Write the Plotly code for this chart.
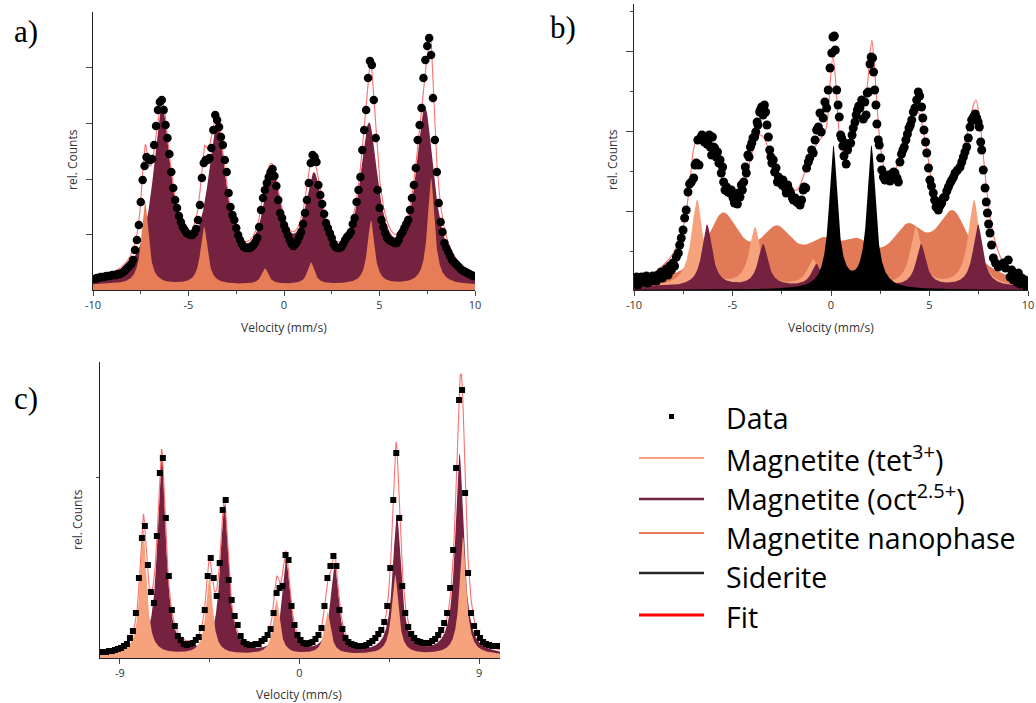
import numpy as np
import plotly.graph_objects as go

# ================= DATA =================
# ---- panel a (rel. counts in arbitrary units) ----
a_vel = np.linspace(-10, 10, 201)
a_counts = [11, 11, 12, 12, 13, 13, 13, 14, 14, 14,
            15, 15, 15, 16, 16, 17, 18, 20, 22, 24,
            26, 30, 40, 50, 65, 88, 110, 124, 133, 131,
            130, 131, 145, 164, 180, 188, 190, 180, 165, 152,
            136, 118, 102, 90, 82, 74, 68, 63, 60, 57,
            56, 55, 55, 57, 61, 70, 85, 112, 127, 130,
            130, 132, 142, 160, 175, 170, 163, 153, 145, 130,
            118, 97, 83, 75, 70, 62, 55, 50, 46, 43,
            42, 42, 42, 43, 45, 48, 52, 63, 80, 92,
            100, 107, 113, 118, 121, 114, 104, 90, 77, 72,
            65, 60, 55, 50, 46, 44, 46, 49, 53, 58,
            66, 77, 90, 107, 127, 135, 133, 128, 105, 95,
            86, 76, 67, 62, 57, 52, 46, 43, 42, 42,
            43, 46, 50, 53, 55, 58, 66, 72, 88, 100,
            113, 140, 160, 180, 212, 229, 225, 190, 152, 100,
            82, 70, 63, 57, 52, 50, 49, 48, 47, 47,
            50, 55, 58, 62, 66, 70, 80, 92, 105, 122,
            150, 165, 182, 212, 230, 244, 252, 235, 192, 150,
            118, 87, 68, 58, 47, 42, 38, 34, 30, 28,
            26, 24, 22, 20, 19, 18, 17, 16, 15, 14,
            14]
a_oct_pos = [-6.39, -3.51, -0.63, 1.57, 4.45, 7.38]
a_oct_amp = [170, 150, 100, 96, 150, 170]
a_oct_hwhm = 0.58
a_tet_pos = [-7.28, -4.19, -1.00, 1.41, 4.55, 7.70]
a_tet_amp = [83, 58, 16, 22, 64, 106]
a_tet_hwhm = 0.22
a_base = 5

# ---- panel b ----
b_points = [(-9.95, 9), (-9.88, 13), (-9.80, 5), (-9.72, 10), (-9.62, 13), (-9.55, 8), (-9.45, 12),
            (-9.37, 14), (-9.30, 7), (-9.20, 12), (-9.12, 9), (-9.05, 14), (-8.95, 13), (-8.86, 9),
            (-8.78, 15), (-8.70, 13), (-8.62, 18), (-8.55, 12), (-8.45, 17), (-8.36, 21), (-8.27, 15),
            (-8.18, 24), (-8.10, 20), (-8.02, 27), (-7.94, 24), (-7.85, 33), (-7.75, 37), (-7.68, 45),
            (-7.60, 52), (-7.51, 60), (-7.43, 72), (-7.35, 80), (-7.26, 98), (-7.18, 106), (-7.09, 108),
            (-6.97, 112), (-6.90, 125), (-6.84, 127), (-6.76, 150), (-6.70, 125), (-6.62, 152),
            (-6.55, 155), (-6.50, 153), (-6.43, 148), (-6.36, 153), (-6.30, 146), (-6.24, 147),
            (-6.18, 155), (-6.13, 143), (-6.06, 135), (-6.02, 153), (-5.97, 143), (-5.91, 142),
            (-5.82, 133), (-5.76, 138), (-5.69, 127), (-5.63, 130), (-5.57, 117), (-5.50, 123),
            (-5.45, 108), (-5.38, 100), (-5.30, 103), (-5.23, 98), (-5.13, 97), (-5.06, 100),
            (-4.97, 92), (-4.90, 87), (-4.81, 88), (-4.75, 86), (-4.69, 97), (-4.62, 93), (-4.55, 105),
            (-4.50, 100), (-4.43, 108), (-4.35, 123), (-4.30, 117), (-4.22, 135), (-4.16, 133),
            (-4.09, 143), (-4.02, 147), (-3.96, 152), (-3.88, 153), (-3.82, 158), (-3.75, 168),
            (-3.71, 165), (-3.62, 178), (-3.59, 180), (-3.52, 183), (-3.45, 175), (-3.38, 185),
            (-3.32, 178), (-3.25, 165), (-3.18, 153), (-3.11, 140), (-3.05, 133), (-3.00, 127),
            (-2.93, 130), (-2.86, 118), (-2.79, 122), (-2.72, 108), (-2.67, 113), (-2.61, 108),
            (-2.55, 110), (-2.48, 105), (-2.44, 110), (-2.36, 103), (-2.27, 97), (-2.20, 105),
            (-2.12, 100), (-2.05, 97), (-1.96, 92), (-1.91, 90), (-1.82, 92), (-1.74, 88), (-1.66, 87),
            (-1.57, 85), (-1.49, 90), (-1.41, 100), (-1.36, 103), (-1.28, 102), (-1.24, 122),
            (-1.15, 128), (-1.08, 132), (-0.98, 140), (-0.90, 137), (-0.81, 150), (-0.73, 160),
            (-0.64, 163), (-0.56, 177), (-0.50, 158), (-0.40, 172), (-0.31, 188), (-0.22, 182),
            (-0.14, 200), (-0.05, 222), (0.04, 237), (0.10, 253), (0.17, 254), (0.22, 240), (0.29, 200),
            (0.36, 185), (0.42, 173), (0.49, 155), (0.54, 152), (0.60, 144), (0.66, 134), (0.71, 147),
            (0.77, 126), (0.84, 140), (0.92, 146), (1.00, 147), (1.07, 155), (1.13, 162), (1.22, 168),
            (1.28, 175), (1.34, 180), (1.41, 184), (1.47, 182), (1.56, 190), (1.64, 171), (1.72, 188),
            (1.78, 175), (1.84, 197), (1.90, 198), (1.98, 226), (2.04, 233), (2.11, 232), (2.16, 218),
            (2.22, 200), (2.28, 185), (2.33, 166), (2.40, 150), (2.45, 145), (2.52, 132), (2.58, 120),
            (2.66, 113), (2.74, 110), (2.80, 111), (2.91, 115), (3.00, 109), (3.08, 116), (3.18, 118),
            (3.25, 117), (3.35, 112), (3.42, 108), (3.50, 128), (3.58, 136), (3.65, 140), (3.72, 143),
            (3.80, 150), (3.88, 156), (3.96, 162), (4.03, 165), (4.10, 170), (4.18, 178), (4.26, 182),
            (4.35, 190), (4.43, 198), (4.50, 194), (4.60, 183), (4.66, 172), (4.72, 160), (4.80, 148),
            (4.86, 137), (4.95, 122), (5.02, 110), (5.10, 104), (5.19, 97), (5.26, 90), (5.33, 83),
            (5.40, 88), (5.45, 80), (5.53, 84), (5.62, 87), (5.70, 92), (5.79, 93), (5.88, 99),
            (5.96, 103), (6.05, 107), (6.13, 110), (6.22, 113), (6.30, 117), (6.42, 120), (6.55, 123),
            (6.64, 128), (6.72, 133), (6.80, 138), (6.89, 143), (6.97, 152), (7.06, 163), (7.14, 170),
            (7.23, 173), (7.32, 176), (7.40, 172), (7.47, 168), (7.53, 163), (7.60, 148), (7.65, 140),
            (7.73, 120), (7.82, 102), (7.88, 88), (7.94, 77), (8.00, 66), (8.07, 57), (8.15, 45),
            (8.24, 32), (8.35, 27), (8.49, 23), (8.60, 25), (8.75, 27), (8.86, 22), (9.00, 30),
            (9.09, 13), (9.17, 20), (9.25, 10), (9.35, 15), (9.43, 8), (9.51, 17), (9.60, 6),
            (9.68, 12), (9.76, 7), (9.85, 10), (9.93, 3)]
b_vel = [p[0] for p in b_points]
b_counts = [p[1] for p in b_points]

b_fit_knots = [(-10.0, 9), (-9.5, 12), (-9.0, 17), (-8.5, 25), (-8.0, 37), (-7.75, 48), (-7.5, 63),
               (-7.3, 85), (-7.15, 110), (-7.0, 138), (-6.85, 150), (-6.7, 153), (-6.5, 153),
               (-6.3, 150), (-6.1, 145), (-5.9, 135), (-5.7, 124), (-5.5, 110), (-5.25, 98), (-5.0, 90),
               (-4.77, 87), (-4.55, 95), (-4.35, 108), (-4.15, 125), (-3.95, 142), (-3.75, 153),
               (-3.55, 155), (-3.35, 150), (-3.15, 140), (-2.95, 128), (-2.75, 115), (-2.5, 108),
               (-2.25, 104), (-2.0, 101), (-1.73, 100), (-1.5, 108), (-1.25, 123), (-1.0, 135),
               (-0.75, 145), (-0.5, 152), (-0.3, 158), (-0.15, 175), (-0.05, 205), (0.1, 235),
               (0.25, 205), (0.4, 160), (0.55, 140), (0.71, 133), (0.9, 142), (1.1, 155), (1.3, 168),
               (1.5, 180), (1.7, 190), (1.85, 205), (1.97, 235), (2.08, 250), (2.2, 225), (2.35, 180),
               (2.5, 145), (2.7, 122), (2.99, 113), (3.25, 120), (3.5, 133), (3.75, 150), (4.0, 165),
               (4.2, 175), (4.37, 180), (4.55, 172), (4.7, 158), (4.87, 140), (5.05, 115), (5.2, 100),
               (5.38, 90), (5.6, 95), (5.89, 103), (6.2, 115), (6.55, 130), (6.8, 148), (7.0, 163),
               (7.2, 183), (7.36, 190), (7.5, 178), (7.66, 150), (7.8, 120), (7.95, 92), (8.1, 70),
               (8.25, 55), (8.5, 38), (8.73, 28), (9.0, 23), (9.24, 20), (9.6, 16), (10.0, 12)]
b_fit_vel = [k[0] for k in b_fit_knots]
b_fit_counts = [k[1] for k in b_fit_knots]

b_nano_pos = [-5.5, -2.75, -0.4, 1.3, 3.9, 6.2]
b_nano_amp = [66, 45, 28, 28, 45, 66]
b_nano_hwhm = 1.05
b_tet_pos = [-6.8, -3.86, -0.91, 1.47, 4.31, 7.26]
b_tet_amp = [86, 58, 26, 22, 58, 86]
b_tet_hwhm = 0.35
b_oct_pos = [-6.29, -3.45, -0.75, 1.57, 4.57, 7.46]
b_oct_amp = [62, 42, 22, 20, 42, 62]
b_oct_hwhm = 0.30
b_sid_pos = [0.12, 2.05]
b_sid_amp = [142, 142]
b_sid_hwhm = 0.26
b_base = 3

# ---- panel c ----
c_vel = np.linspace(-10, 9.95, 134)
c_counts = [6, 6, 6, 7, 7, 8, 9, 10, 12, 14,
            20, 27, 45, 80, 120, 132, 93, 66, 55, 122,
            185, 200, 140, 82, 48, 32, 22, 18, 14, 13,
            14, 15, 18, 21, 30, 48, 82, 100, 80, 62,
            95, 148, 158, 78, 58, 42, 33, 22, 16, 14,
            13, 13, 14, 14, 17, 19, 23, 29, 45, 65,
            70, 72, 103, 98, 52, 33, 23, 18, 15, 14,
            15, 16, 19, 23, 30, 52, 80, 92, 102, 92,
            48, 29, 20, 16, 14, 13, 12, 12, 12, 13,
            15, 17, 20, 24, 28, 36, 52, 90, 158, 205,
            140, 72, 45, 31, 24, 20, 17, 16, 15, 15,
            15, 17, 19, 23, 28, 35, 45, 70, 108, 190,
            258, 268, 165, 85, 45, 32, 25, 20, 16, 14,
            13, 12, 12, 12]
c_oct_pos = [-6.91, -3.77, -0.67, 1.76, 4.88, 8.02]
c_oct_amp = [198, 148, 92, 88, 138, 200]
c_oct_hwhm = 0.25
c_tet_pos = [-7.83, -4.52, -1.15, 1.40, 4.79, 8.19]
c_tet_amp = [126, 80, 55, 42, 80, 118]
c_tet_hwhm = 0.20
c_base = 3

# ---- tick labels ----
ab_tick_vals = [-10, -5, 0, 5, 10]
ab_tick_text = ['-10', '-5', '0', '5', '10']
c_tick_vals = [-9, 0, 9]
c_tick_text = ['-9', '0', '9']

# ================= STYLE =================
W, H = 1036, 703
MAROON = '#74223F'
ORANGE = '#E67D57'
NANO = '#E27A57'
SALMON = '#F5A27D'
FITC = 'rgba(255,95,95,0.9)'
TICKFONT = dict(family='Open Sans', size=11, color='#333')
LABFONT = dict(family='Open Sans', size=12, color='#333')


def lorentz(x, pos, amp, w):
    x = np.asarray(x, dtype=float)
    out = np.zeros_like(x)
    for p, a in zip(pos, amp):
        out += a / (1.0 + ((x - p) / w) ** 2)
    return out


def px(x):
    return x / W


def py(y):
    return 1 - y / H


fig = go.Figure()


def fill(x, y, color, n):
    fig.add_trace(go.Scatter(x=x, y=y, mode='lines', line=dict(width=0, color=color),
                             fill='tozeroy', fillcolor=color, hoverinfo='skip',
                             showlegend=False, xaxis='x' + n, yaxis='y' + n))


def line(x, y, n, shape='linear'):
    fig.add_trace(go.Scatter(x=x, y=y, mode='lines', line=dict(width=1.1, color=FITC, shape=shape,
                                                                  smoothing=0.6),
                             hoverinfo='skip', showlegend=False, xaxis='x' + n, yaxis='y' + n))


def dots(x, y, n, symbol, size):
    fig.add_trace(go.Scatter(x=x, y=y, mode='markers',
                             marker=dict(symbol=symbol, size=size, color='black', line=dict(width=0)),
                             hoverinfo='skip', showlegend=False, xaxis='x' + n, yaxis='y' + n))


# ---- panel a ----
ga = np.linspace(-10, 10, 2001)
a_oct = lorentz(ga, a_oct_pos, a_oct_amp, a_oct_hwhm) + a_base
a_tet = lorentz(ga, a_tet_pos, a_tet_amp, a_tet_hwhm) + a_base
fill(ga, a_oct, MAROON, '')
fill(ga, a_tet, ORANGE, '')
line(ga, a_oct + a_tet - a_base, '')
dots(a_vel, a_counts, '', 'circle', 8.5)

# ---- panel b ----
gb = np.linspace(-10, 10, 2001)
fill(gb, lorentz(gb, b_nano_pos, b_nano_amp, b_nano_hwhm) + b_base, NANO, '2')
fill(gb, lorentz(gb, b_tet_pos, b_tet_amp, b_tet_hwhm) + b_base, SALMON, '2')
fill(gb, lorentz(gb, b_oct_pos, b_oct_amp, b_oct_hwhm) + b_base, MAROON, '2')
fill(gb, lorentz(gb, b_sid_pos, b_sid_amp, b_sid_hwhm), '#000000', '2')
line(b_fit_vel, b_fit_counts, '2', shape='spline')
dots(b_vel, b_counts, '2', 'circle', 9)

# ---- panel c ----
gc = np.linspace(-10, 10.05, 2011)
c_oct = lorentz(gc, c_oct_pos, c_oct_amp, c_oct_hwhm) + c_base
c_tet = lorentz(gc, c_tet_pos, c_tet_amp, c_tet_hwhm) + c_base
fill(gc, c_oct, MAROON, '3')
fill(gc, c_tet, SALMON, '3')
line(gc, c_oct + c_tet - c_base, '3')
dots(c_vel, c_counts, '3', 'square', 6)


def xaxis(dom, rng, tv, tt, minor_vals, anchor):
    return dict(domain=dom, range=rng, anchor=anchor, showline=True, linecolor='#222', linewidth=1.2,
                ticks='outside', ticklen=5, tickwidth=1, tickcolor='#444', tickmode='array',
                tickvals=tv, ticktext=tt, tickfont=TICKFONT, showgrid=False, zeroline=False,
                automargin=False,
                minor=dict(tickmode='array', tickvals=minor_vals, ticks='outside', ticklen=3,
                           tickwidth=1, tickcolor='#444', showgrid=False),
                fixedrange=True)


def yaxis(dom, rng, major, minor_vals, anchor, ticklen=6):
    return dict(domain=dom, range=rng, anchor=anchor, showline=True, linecolor='#222', linewidth=1,
                ticks='outside', ticklen=ticklen, tickwidth=1, tickcolor='#444', tickmode='array',
                tickvals=major, showticklabels=False, showgrid=False, zeroline=False,
                automargin=False,
                minor=dict(tickmode='array', tickvals=minor_vals, ticks='outside', ticklen=3,
                           tickwidth=1, tickcolor='#444', showgrid=False),
                fixedrange=True)


fig.update_layout(
    width=W, height=H, autosize=False,
    margin=dict(l=0, r=0, t=0, b=0, pad=0, autoexpand=False),
    paper_bgcolor='white', plot_bgcolor='white',
    showlegend=False,
    xaxis=xaxis([px(93), px(475)], [-10, 10], ab_tick_vals, ab_tick_text, [-7.5, -2.5, 2.5, 7.5], 'y'),
    yaxis=yaxis([py(290), py(12)], [0, 278], [56, 111, 167, 223], [], 'x'),
    xaxis2=xaxis([px(634), px(1028)], [-10, 10], ab_tick_vals, ab_tick_text, [-7.5, -2.5, 2.5, 7.5], 'y2'),
    yaxis2=yaxis([py(290), py(4)], [0, 286], [79, 159, 239], [39, 119, 199, 279], 'x2', ticklen=7),
    xaxis3=xaxis([px(100), px(500)], [-10, 10.05], c_tick_vals, c_tick_text, [-4.5, 4.5], 'y3'),
    yaxis3=yaxis([py(658), py(362)], [0, 296], [181], [], 'x3', ticklen=3),
)

ann = []
# panel labels
for t, x, y in [('a)', 12, 31), ('b)', 548, 28), ('c)', 12, 398)]:
    ann.append(dict(text=t, x=px(x), y=py(y), xref='paper', yref='paper', xanchor='left', yanchor='middle',
                    showarrow=False, font=dict(family='Liberation Serif', size=31, color='black')))
# axis titles
for x, y in [(72, 160), (612, 160), (77, 520)]:
    ann.append(dict(text='rel. Counts', x=px(x), y=py(y), xref='paper', yref='paper', textangle=-90,
                    xanchor='center', yanchor='middle', showarrow=False, font=LABFONT))
for x, y in [(284, 327), (831, 327), (299, 694)]:
    ann.append(dict(text='Velocity (mm/s)', x=px(x), y=py(y), xref='paper', yref='paper',
                    xanchor='center', yanchor='middle', showarrow=False, font=LABFONT))
# legend texts
legend_items = ['Data', 'Magnetite (tet<sup>3+</sup>)', 'Magnetite (oct<sup>2.5+</sup>)',
                'Magnetite nanophase', 'Siderite', 'Fit']
legend_y = [418, 458, 498, 538, 577, 617]
for t, y in zip(legend_items, legend_y):
    ann.append(dict(text=t, x=px(724), y=py(y), xref='paper', yref='paper', xanchor='left',
                    yanchor='middle', showarrow=False,
                    font=dict(family='Open Sans', size=28.5, color='black')))
fig.update_layout(annotations=ann)

shapes = [dict(type='rect', xref='paper', yref='paper', x0=px(669), x1=px(674), y0=py(419), y1=py(414),
               fillcolor='black', line=dict(width=0))]
legend_lines = [('rgb(245,160,128)', 458, 2), ('rgb(110,35,65)', 499, 2.5), ('rgb(236,120,85)', 533, 2),
                ('rgb(40,40,40)', 573, 2.5), ('rgb(255,0,0)', 615, 3)]
for col, y, wd in legend_lines:
    shapes.append(dict(type='line', xref='paper', yref='paper', x0=px(639), x1=px(704), y0=py(y), y1=py(y),
                       line=dict(color=col, width=wd)))
fig.update_layout(shapes=shapes)

fig.write_html('out.html', config={'displayModeBar': False},
               post_script="document.body.style.margin='0px';document.body.style.overflow='hidden';")
